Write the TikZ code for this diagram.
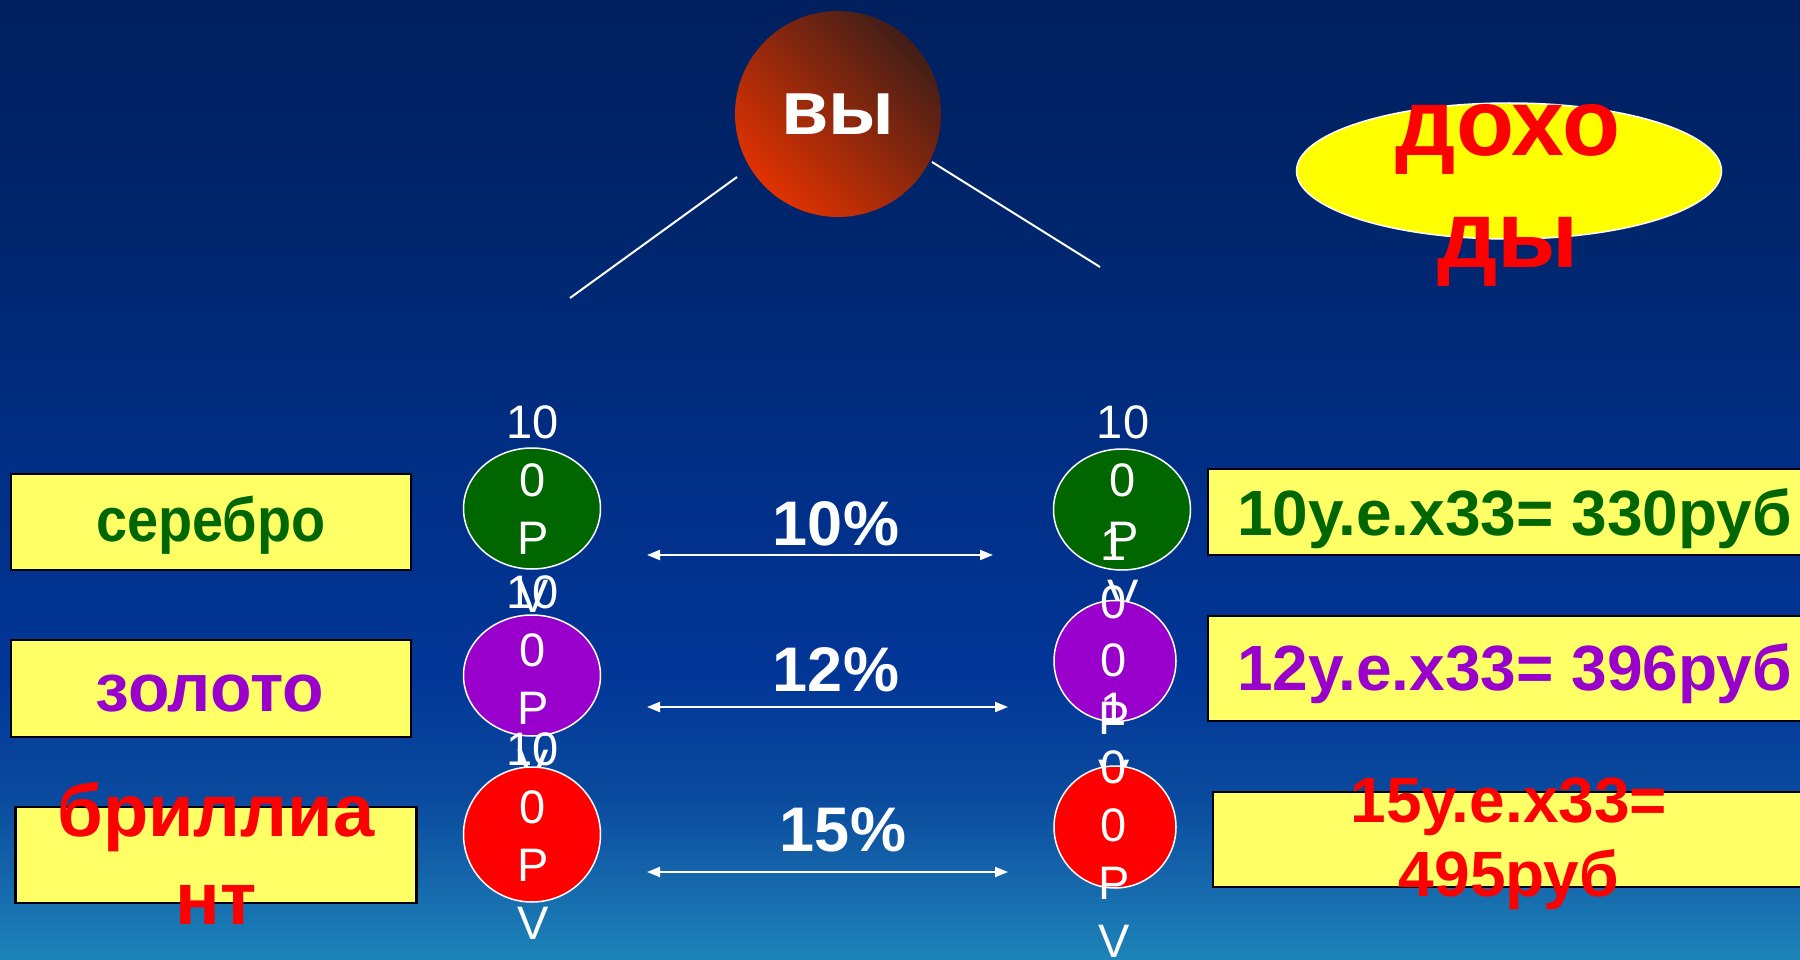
\documentclass[tikz,border=0pt]{standalone}
\usepackage{fontspec}
\setmainfont{Liberation Sans}
\newfontfamily\narrowsans{Liberation Sans}[FakeStretch=0.9]
\usetikzlibrary{shapes.geometric,arrows.meta}
\definecolor{bgtop}{HTML}{001F5E}
\definecolor{bgu}{HTML}{00266E}
\definecolor{bgmu}{HTML}{002F86}
\definecolor{bgm}{HTML}{023697}
\definecolor{bgl}{HTML}{0A4A9E}
\definecolor{bgll}{HTML}{1668AC}
\definecolor{bgbot}{HTML}{1C84B8}
\definecolor{boxyellow}{HTML}{FFFF66}
\definecolor{silvergreen}{HTML}{006600}
\definecolor{goldpurple}{HTML}{9900CC}
\definecolor{diamred}{HTML}{FF0000}
\definecolor{balldark}{HTML}{421E18}
\definecolor{ballbright}{HTML}{E03200}
\definecolor{incyellow}{HTML}{FFFF00}
\pgfdeclareverticalshading{bgshade}{100bp}{color(0bp)=(bgbot); color(25bp)=(bgbot); color(29bp)=(bgll); color(33.5bp)=(bgl); color(40bp)=(bgm); color(50bp)=(bgmu); color(62.5bp)=(bgu); color(75bp)=(bgtop); color(100bp)=(bgtop)}
\tikzset{
  conn/.style={draw=white, line width=2pt},
  bub/.style={ellipse, draw=white, line width=1.5pt, inner sep=0},
  ntext/.style={text=white, inner sep=0, align=center, font=\fontsize{47}{58}\selectfont},
  ybox/.style={rectangle, draw=black, line width=2.5pt, fill=boxyellow, inner sep=0},
  pct/.style={text=white, inner sep=0, font=\bfseries\fontsize{63}{75}\selectfont},
  arr/.style={draw=white, line width=2pt, arrows={Triangle[length=13pt,width=10pt]-Triangle[length=13pt,width=10pt]}},
  big/.style={inner sep=0, align=center, font=\bfseries\fontsize{64}{74}\selectfont}
}
\begin{document}
\begin{tikzpicture}[x=1pt,y=-1pt]
\useasboundingbox (0,0) rectangle (1800,960);
\clip (0,0) rectangle (1800,960);
\shade[shading=bgshade] (0,0) rectangle (1800,960);

% lines from "you"
\coordinate (ls) at (737,177);
\coordinate (le) at (570,298);
\coordinate (rs) at (932,162);
\coordinate (re) at (1100,267);
\draw[conn] (ls) -- (le);
\draw[conn] (rs) -- (re);

% you circle
\node[circle, minimum size=206pt, inner sep=0, top color=balldark, bottom color=ballbright, shading angle=-45,
      text=white, font=\bfseries\fontsize{77}{90}\selectfont] (you) at (838,114) {вы};

% income ellipse
\node[ellipse, draw=white, line width=1.5pt, fill=incyellow, minimum width=425pt, minimum height=136pt, inner sep=0] (inc) at (1509,171) {};
\node[inner sep=0, align=center, text=diamred, anchor=north, font=\bfseries\fontsize{95}{112}\selectfont] (inct) at (1508,104) {дохо\\ды};

% left boxes
\node[ybox, minimum width=400pt, minimum height=96pt] (lb1) at (211,522) {};
\node[inner sep=0, anchor=base, text=silvergreen, font=\narrowsans\bfseries\fontsize{62}{74}\selectfont] (lb1t) at (211,541.7) {серебро};
\node[ybox, minimum width=400pt, minimum height=97pt] (lb2) at (211,688.5) {};
\node[inner sep=0, anchor=base, text=goldpurple, font=\bfseries\fontsize{68}{80}\selectfont] (lb2t) at (210,711.7) {золото};
\node[ybox, minimum width=401pt, minimum height=96pt] (lb3) at (216,855) {};
\node[inner sep=0, align=center, anchor=north, text=diamred, font=\bfseries\fontsize{74}{88}\selectfont] (lb3t) at (216,782) {бриллиа\\нт};

% left bubbles
\node[bub, fill=silvergreen, minimum width=137pt, minimum height=121pt] (lg) at (532,508.5) {};
\node[ntext, anchor=north] (lgt) at (533,405) {10\\0\\Р\\V};
\node[bub, fill=goldpurple, minimum width=137pt, minimum height=121pt] (lp) at (532,675.5) {};
\node[ntext, anchor=north] (lpt) at (533,575) {10\\0\\Р\\V};
\node[bub, fill=diamred, minimum width=137pt, minimum height=135pt] (lr) at (532,834.5) {};
\node[ntext, anchor=north] (lrt) at (533,732) {10\\0\\Р\\V};

% right bubbles
\node[bub, fill=silvergreen, minimum width=137pt, minimum height=121pt] (rg) at (1122,509.5) {};
\node[ntext, anchor=north] (rgt) at (1123,405) {10\\0\\Р\\V};
\node[bub, fill=goldpurple, minimum width=122pt, minimum height=121pt] (rp) at (1115,661) {};
\node[ntext, anchor=north] (rpt) at (1114,528) {1\\0\\0\\Р\\V};
\node[bub, fill=diamred, minimum width=122pt, minimum height=122pt] (rr) at (1115,827) {};
\node[ntext, anchor=north] (rrt) at (1114,693) {1\\0\\0\\Р\\V};

% arrows and rates
\coordinate (a1l) at (647,555); \coordinate (a1r) at (993,555);
\coordinate (a2l) at (647,707); \coordinate (a2r) at (1008,707);
\coordinate (a3l) at (647,872); \coordinate (a3r) at (1008,872);
\draw[arr] (a1l) -- (a1r);
\draw[arr] (a2l) -- (a2r);
\draw[arr] (a3l) -- (a3r);
\node[pct, anchor=base] (p1) at (836,545) {10\%};
\node[pct, anchor=base] (p2) at (836,691.7) {12\%};
\node[pct, anchor=base] (p3) at (843,851.7) {15\%};

% right boxes
\node[ybox, minimum width=613pt, minimum height=86pt] (rb1) at (1514.5,512) {};
\node[big, anchor=base, text=silvergreen] (rb1t) at (1514.5,535) {10у.е.х33= 330руб};
\node[ybox, minimum width=613pt, minimum height=105pt] (rb2) at (1514.5,668.5) {};
\node[big, anchor=base, text=goldpurple] (rb2t) at (1514.5,690) {12у.е.х33= 396руб};
\node[ybox, minimum width=600pt, minimum height=95pt] (rb3) at (1513,839.5) {};
\node[big, anchor=north, text=diamred] (rb3t) at (1509,778) {15у.е.х33=\\495руб};
\end{tikzpicture}
\end{document}
